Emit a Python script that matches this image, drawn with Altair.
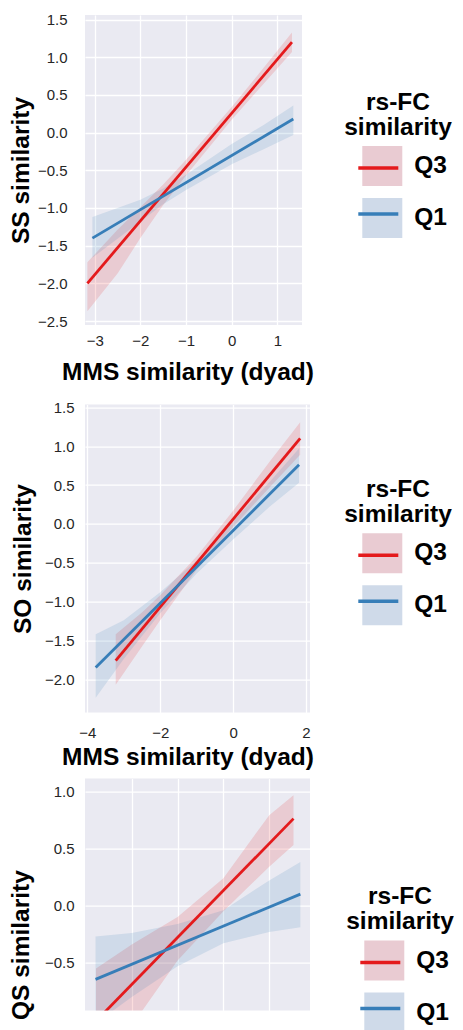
import altair as alt
import pandas as pd

FONT = "Liberation Sans"
GROUPS = ["Q3", "Q1"]
LINE_COLORS = ["#E41A1C", "#377EB8"]
SWATCH_COLORS = ["#E9CBD2", "#CFDAE9"]
LEGEND_TITLE = ["rs-FC", "similarity"]
X_TITLE = "MMS similarity (dyad)"

# ---------- Panel 1 : SS similarity ----------
P1_Q3_LINE_X = [-3.16, 1.32]
P1_Q3_LINE_Y = [-2.00, 1.20]
P1_Q3_BAND_X = [-3.16, -2.5, -2.0, -1.5, -1.0, 0.0, 0.7, 1.32]
P1_Q3_BAND_LO = [-2.37, -1.87, -1.40, -0.96, -0.57, 0.17, 0.65, 1.07]
P1_Q3_BAND_HI = [-1.72, -1.29, -0.99, -0.69, -0.36, 0.34, 0.86, 1.33]
P1_Q1_LINE_X = [-3.05, 1.35]
P1_Q1_LINE_Y = [-1.40, 0.18]
P1_Q1_BAND_X = [-3.05, -2.5, -2.0, -1.5, -1.0, 0.0, 0.7, 1.35]
P1_Q1_BAND_LO = [-1.66, -1.41, -1.18, -0.95, -0.76, -0.42, -0.22, -0.03]
P1_Q1_BAND_HI = [-1.12, -1.00, -0.89, -0.74, -0.56, -0.15, 0.10, 0.36]
P1_X_TICKS = [-3, -2, -1, 0, 1]
P1_Y_TICKS = [-2.5, -2.0, -1.5, -1.0, -0.5, 0.0, 0.5, 1.0, 1.5]

# ---------- Panel 2 : SO similarity ----------
P2_Q3_LINE_X = [-3.22, 1.84]
P2_Q3_LINE_Y = [-1.76, 1.10]
P2_Q3_BAND_X = [-3.22, -2.5, -2.0, -1.0, 0.0, 1.0, 1.84]
P2_Q3_BAND_LO = [-2.07, -1.58, -1.24, -0.59, -0.04, 0.47, 0.89]
P2_Q3_BAND_HI = [-1.42, -1.14, -0.92, -0.42, 0.17, 0.80, 1.31]
P2_Q1_LINE_X = [-3.77, 1.81]
P2_Q1_LINE_Y = [-1.85, 0.76]
P2_Q1_BAND_X = [-3.77, -3.0, -2.0, -1.0, 0.0, 1.0, 1.81]
P2_Q1_BAND_LO = [-2.24, -1.74, -1.15, -0.64, -0.20, 0.22, 0.53]
P2_Q1_BAND_HI = [-1.42, -1.24, -0.88, -0.47, 0.03, 0.54, 0.97]
P2_X_TICKS = [-4, -2, 0, 2]
P2_Y_TICKS = [-2.0, -1.5, -1.0, -0.5, 0.0, 0.5, 1.0, 1.5]

# ---------- Panel 3 : QS similarity ----------
P3_Q3_LINE_X = [-2.78, 1.53]
P3_Q3_LINE_Y = [-1.01, 0.76]
P3_Q3_BAND_X = [-2.78, -2.0, -1.0, 0.0, 1.0, 1.53]
P3_Q3_BAND_LO = [-1.55, -1.05, -0.48, -0.05, 0.34, 0.53]
P3_Q3_BAND_HI = [-0.55, -0.34, -0.10, 0.24, 0.79, 0.965]
P3_Q1_LINE_X = [-2.79, 1.68]
P3_Q1_LINE_Y = [-0.645, 0.10]
P3_Q1_BAND_X = [-2.79, -2.0, -1.0, 0.0, 1.0, 1.68]
P3_Q1_BAND_LO = [-1.03, -0.80, -0.53, -0.33, -0.23, -0.19]
P3_Q1_BAND_HI = [-0.27, -0.24, -0.16, -0.04, 0.22, 0.38]
P3_X_TICKS = [-2, -1, 0, 1]
P3_Y_TICKS = [-0.5, 0.0, 0.5, 1.0]


def line_df(q3x, q3y, q1x, q1y):
    return pd.concat([
        pd.DataFrame({"x": q3x, "y": q3y, "group": "Q3"}),
        pd.DataFrame({"x": q1x, "y": q1y, "group": "Q1"}),
    ], ignore_index=True)


def band_df(q3x, q3lo, q3hi, q1x, q1lo, q1hi):
    return pd.concat([
        pd.DataFrame({"x": q3x, "lo": q3lo, "hi": q3hi, "group": "Q3"}),
        pd.DataFrame({"x": q1x, "lo": q1lo, "hi": q1hi, "group": "Q1"}),
    ], ignore_index=True)


def legends(lx, ly):
    entries = dict(
        orient="none", legendX=lx, padding=0,
        labelFont=FONT, labelFontSize=24.5, labelFontWeight="bold",
        symbolSize=1600, symbolOffset=12.3, labelOffset=12, rowPadding=12,
    )
    sq = alt.Legend(
        legendY=ly, title=LEGEND_TITLE, titleFont=FONT, titleFontSize=24.5,
        titleFontWeight="bold", titleAnchor="middle", titleAlign="center",
        titleLineHeight=25, titlePadding=6, titleColor="black",
        symbolType="square", symbolOpacity=1, symbolStrokeWidth=0,
        labelColor="black", **entries,
    )
    ln = alt.Legend(
        legendY=ly + 55.5, title=None, symbolType="stroke", symbolStrokeWidth=3.5,
        labelExpr="''", zindex=1, **entries,
    )
    return sq, ln


def panel(lines, bands, xdom, ydom, xticks, yticks, ytitle, w, h, ylp, ytp,
          lx, ly, xlp=8, xtp=12, show_x=True, title_y=None, title_x=None):
    xs = alt.Scale(domain=xdom, nice=False, zero=False)
    ys = alt.Scale(domain=ydom, nice=False, zero=False)
    if show_x:
        xargs = dict(values=xticks, format="d", title=X_TITLE,
                     labelPadding=xlp, titlePadding=xtp)
        if title_x is not None:
            xargs["titleX"] = title_x
        xaxis = alt.Axis(**xargs)
    else:
        xaxis = alt.Axis(values=xticks, labels=False, title=None)
    yargs = dict(values=yticks, format=".1f", title=ytitle, labelPadding=ylp, titlePadding=ytp)
    if title_y is not None:
        yargs["titleY"] = title_y
    yaxis = alt.Axis(**yargs)
    sq, ln = legends(lx, ly)

    band = alt.Chart(bands).mark_area(fillOpacity=0.15, clip=True).encode(
        x=alt.X("x:Q", scale=xs, axis=xaxis),
        y=alt.Y("lo:Q", scale=ys, axis=yaxis),
        y2="hi:Q",
        fill=alt.Fill("group:N", scale=alt.Scale(domain=GROUPS, range=LINE_COLORS), legend=None),
    )
    swatch = alt.Chart(bands).mark_area(opacity=0, clip=True).encode(
        x=alt.X("x:Q", scale=xs, axis=xaxis),
        y=alt.Y("lo:Q", scale=ys, axis=yaxis),
        y2="hi:Q",
        fill=alt.Fill("group:N", scale=alt.Scale(domain=GROUPS, range=SWATCH_COLORS), legend=sq),
    )
    line = alt.Chart(lines).mark_line(strokeWidth=2.8, clip=True).encode(
        x=alt.X("x:Q", scale=xs, axis=xaxis),
        y=alt.Y("y:Q", scale=ys, axis=yaxis),
        stroke=alt.Stroke("group:N", scale=alt.Scale(domain=GROUPS, range=LINE_COLORS), legend=ln),
    )
    return alt.layer(band, swatch, line).resolve_scale(
        fill="independent", stroke="independent"
    ).properties(width=w, height=h)


p1 = panel(
    line_df(P1_Q3_LINE_X, P1_Q3_LINE_Y, P1_Q1_LINE_X, P1_Q1_LINE_Y),
    band_df(P1_Q3_BAND_X, P1_Q3_BAND_LO, P1_Q3_BAND_HI, P1_Q1_BAND_X, P1_Q1_BAND_LO, P1_Q1_BAND_HI),
    [-3.2125, 1.54], [-2.553, 1.561], P1_X_TICKS, P1_Y_TICKS, "SS similarity",
    217, 310, 18, 3.5, 259, 75.5, xlp=8, xtp=12, title_x=102.5,
)
p2 = panel(
    line_df(P2_Q3_LINE_X, P2_Q3_LINE_Y, P2_Q1_LINE_X, P2_Q1_LINE_Y),
    band_df(P2_Q3_BAND_X, P2_Q3_BAND_LO, P2_Q3_BAND_HI, P2_Q1_BAND_X, P2_Q1_BAND_LO, P2_Q1_BAND_HI),
    [-4.063, 2.11], [-2.43, 1.536], P2_X_TICKS, P2_Y_TICKS, "SO similarity",
    225, 308, 11, 8.5, 259, 73.2, xlp=12.5, xtp=5.7, title_x=102.5,
)
p3 = panel(
    line_df(P3_Q3_LINE_X, P3_Q3_LINE_Y, P3_Q1_LINE_X, P3_Q1_LINE_Y),
    band_df(P3_Q3_BAND_X, P3_Q3_BAND_LO, P3_Q3_BAND_HI, P3_Q1_BAND_X, P3_Q1_BAND_LO, P3_Q1_BAND_HI),
    [-3.02, 1.89], [-0.918, 1.11], P3_X_TICKS, P3_Y_TICKS, "QS similarity",
    225, 232, 11, 10.5, 261, 106.5, show_x=False, title_y=166,
)

inner = alt.ConcatChart(concat=[p2, p3], columns=1, spacing=9, align="none").resolve_scale(
    fill="independent", stroke="independent")
chart = alt.ConcatChart(concat=[p1, inner], columns=1, spacing=15.6, align="none").resolve_scale(
    fill="independent", stroke="independent"
).properties(
    padding={"left": 8, "top": 12, "right": 0, "bottom": 0},
    background="white",
).configure_view(
    fill="#EAEAF2", strokeWidth=0
).configure_axis(
    gridColor="white", gridWidth=1.3, domain=False, ticks=False, tickSize=0,
    labelFont=FONT, labelFontSize=15, labelColor="#262626",
    titleFont=FONT, titleFontSize=24.5, titleFontWeight="bold", titleColor="black",
)

chart.save("out.html", embed_options={"renderer": "svg", "actions": False})
